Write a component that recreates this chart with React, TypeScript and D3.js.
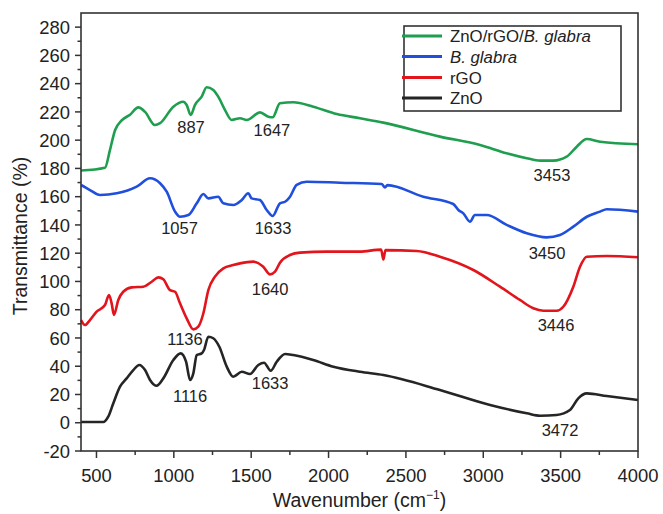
import React from "react";
import * as d3 from "d3";

const seriesNames = ["ZnO/rGO/B. glabra", "B. glabra", "rGO", "ZnO"];
const seriesColors = ["#1e9e4e", "#1f4fdc", "#e2141c", "#252525"];

const greenWn = [400, 555, 587, 620, 663, 717, 770, 814, 878, 911, 997, 1061, 1083, 1109, 1137, 1180, 1212, 1255, 1287, 1331, 1374, 1428, 1471, 1557, 1611, 1639, 1686, 1772, 1901, 2053, 2203, 2354, 2720, 2979, 3151, 3281, 3367, 3453, 3539, 3604, 3669, 3755, 4000];
const greenT = [178.5, 180.5, 193, 207, 214, 218, 223.2, 220, 210.7, 212, 223.7, 227.2, 224.9, 217.8, 225, 230.8, 237.4, 235.5, 230.8, 221.3, 214.3, 215.5, 214.3, 219.7, 216.6, 216.2, 226.1, 226.8, 223.7, 218.5, 215.5, 212.4, 202.5, 196.6, 190.7, 187.2, 185.5, 185.5, 188.3, 195.4, 200.8, 198.9, 197.1];

const blueWn = [400, 458, 523, 631, 760, 846, 911, 954, 1008, 1040, 1094, 1148, 1191, 1223, 1287, 1320, 1384, 1439, 1481, 1503, 1557, 1600, 1639, 1686, 1719, 1751, 1794, 1859, 2074, 2343, 2365, 2380, 2612, 2806, 2839, 2871, 2914, 2946, 3022, 3151, 3281, 3410, 3496, 3582, 3669, 3755, 3798, 4000];
const blueT = [168.3, 164.7, 161.2, 162.4, 167.1, 173, 169.5, 163.5, 149.4, 145.8, 147, 155.3, 161.9, 158.8, 160, 155.3, 154.1, 157.6, 162.4, 158.8, 157.6, 150.6, 146.3, 155.3, 156.4, 160, 168.3, 170.6, 169.9, 169, 166.6, 168.2, 160, 154.8, 150.6, 148.2, 142.3, 147, 147, 140, 134.1, 131.2, 132.9, 138.8, 145.8, 149.4, 151.1, 149.4];

const redWn = [400, 426, 458, 501, 555, 581, 598, 613, 641, 673, 728, 803, 857, 900, 932, 975, 1008, 1040, 1083, 1126, 1158, 1191, 1223, 1266, 1320, 1384, 1428, 1514, 1578, 1622, 1654, 1686, 1751, 1815, 1988, 2200, 2340, 2354, 2368, 2570, 2720, 2936, 3108, 3237, 3323, 3388, 3474, 3517, 3582, 3625, 3669, 3798, 4000];
const redT = [72.7, 69.2, 72.7, 78.6, 83.3, 90.4, 84.5, 76.3, 86.9, 92.7, 95.8, 96.3, 99.8, 102.9, 101.5, 93.9, 92.7, 84.5, 73.9, 66.1, 68, 77.5, 93.9, 103.4, 109.3, 111.6, 112.8, 114, 110.4, 105, 106.9, 113.3, 118.7, 120.4, 121.1, 121.1, 122.5, 115.5, 122.2, 121.5, 117.5, 108.1, 96.3, 86.9, 81, 79.3, 79.3, 82.1, 96.3, 110.4, 117.5, 118, 117.1];

const blackWn = [400, 544, 576, 609, 652, 695, 738, 777, 814, 846, 889, 932, 997, 1044, 1079, 1105, 1126, 1148, 1180, 1195, 1223, 1255, 1294, 1342, 1384, 1439, 1492, 1546, 1583, 1626, 1665, 1719, 1772, 1901, 2031, 2203, 2354, 2720, 3044, 3281, 3367, 3474, 3560, 3614, 3669, 3798, 4000];
const blackT = [0.5, 0.5, 4.3, 13.8, 25.5, 31.4, 37.3, 40.9, 37.3, 30.3, 26.2, 31.4, 44.4, 49.1, 43.2, 30.3, 35, 47.9, 49.1, 51.5, 60.9, 59.8, 53.8, 39.7, 32.6, 36.1, 34.5, 40.9, 42.5, 36.8, 43.2, 48.7, 47.9, 44.4, 39.7, 36.1, 33.8, 23.2, 12.6, 6.7, 5, 5.5, 9, 17.3, 20.8, 18.9, 16.1];

const xTicks = [500, 1000, 1500, 2000, 2500, 3000, 3500, 4000];
const xMinorTicks = [750, 1250, 1750, 2250, 2750, 3250, 3750];
const yTicks = [-20, 0, 20, 40, 60, 80, 100, 120, 140, 160, 180, 200, 220, 240, 260, 280];
const yMinorTicks = [-10, 10, 30, 50, 70, 90, 110, 130, 150, 170, 190, 210, 230, 250, 270];

const annoLabels = ["887", "1647", "1057", "1633", "1136", "1640", "1116", "1633", "3453", "3450", "3446", "3472"];
const annoX = [1111, 1634, 1037, 1641, 1072, 1622, 1105, 1622, 3444, 3412, 3470, 3496];
const annoY = [205.1, 202.9, 133.6, 133.6, 55.0, 90.4, 14.7, 23.9, 171.1, 115.9, 65, -9.2];

export default function App() {
  const W = 663, H = 514;
  const left = 81, right = 638, top = 13, bottom = 451;
  const x = d3.scaleLinear().domain([400, 4000]).range([left, right]);
  const y = d3.scaleLinear().domain([-20, 290]).range([bottom, top]);
  const font = "'Liberation Sans', Arial, Helvetica, sans-serif";
  const axisColor = "#333";

  const seriesData: [number, number][][] = [
    greenWn.map((w, i) => [w, greenT[i]]),
    blueWn.map((w, i) => [w, blueT[i]]),
    redWn.map((w, i) => [w, redT[i]]),
    blackWn.map((w, i) => [w, blackT[i]]),
  ];
  const line = d3.line<[number, number]>().x(d => x(d[0])).y(d => y(d[1])).curve(d3.curveMonotoneX);

  const legX = 404, legY = 26, legW = 217, legH = 85;
  const rowY = [36, 56.5, 77.5, 98];

  return (
    <svg width={W} height={H} style={{ position: "absolute", left: 0, top: 0, background: "#fff" }} fontFamily={font}>
      <rect x={0} y={0} width={W} height={H} fill="#fff" />
      {/* curves */}
      {seriesData.map((d, i) => (
        <path key={i} d={line(d) || ""} fill="none" stroke={seriesColors[i]} strokeWidth={2.6} strokeLinejoin="round" />
      ))}
      {/* frame */}
      <rect x={left} y={top} width={right - left} height={bottom - top} fill="none" stroke={axisColor} strokeWidth={1.6} />
      {/* x ticks */}
      {xTicks.map(t => (
        <g key={"xt" + t}>
          <line x1={x(t)} x2={x(t)} y1={bottom} y2={bottom + 7} stroke={axisColor} strokeWidth={1.5} />
          <text x={x(t)} y={482} textAnchor="middle" fontSize={18.4} fill="#222">{t}</text>
        </g>
      ))}
      {xMinorTicks.map(t => (
        <line key={"xm" + t} x1={x(t)} x2={x(t)} y1={bottom} y2={bottom + 4} stroke={axisColor} strokeWidth={1.5} />
      ))}
      {/* y ticks */}
      {yTicks.map(t => (
        <g key={"yt" + t}>
          <line x1={left - 6} x2={left} y1={y(t)} y2={y(t)} stroke={axisColor} strokeWidth={1.5} />
          <text x={left - 11} y={y(t)} dy="0.36em" textAnchor="end" fontSize={18.4} fill="#222">{t}</text>
        </g>
      ))}
      {yMinorTicks.map(t => (
        <line key={"ym" + t} x1={left - 3.5} x2={left} y1={y(t)} y2={y(t)} stroke={axisColor} strokeWidth={1.5} />
      ))}
      {/* axis titles */}
      <text x={(left + right) / 2} y={507} textAnchor="middle" fontSize={19.5} fill="#222">
        Wavenumber (cm<tspan dy={-8} fontSize={12}>−1</tspan><tspan dy={8}>)</tspan>
      </text>
      <text transform={`translate(27,${(top + bottom) / 2 + 4}) rotate(-90)`} textAnchor="middle" fontSize={19.5} fill="#222">
        Transmittance (%)
      </text>
      {/* annotations */}
      {annoLabels.map((l, i) => (
        <text key={"a" + i} x={x(annoX[i])} y={y(annoY[i])} textAnchor="middle" fontSize={16.5} fill="#222">{l}</text>
      ))}
      {/* legend */}
      <rect x={legX} y={legY} width={legW} height={legH} fill="#fff" stroke={axisColor} strokeWidth={1.6} />
      {seriesNames.map((n, i) => (
        <g key={"lg" + i}>
          <line x1={402} x2={442} y1={rowY[i]} y2={rowY[i]} stroke={seriesColors[i]} strokeWidth={2.8} />
          <text x={450} y={rowY[i]} dy="0.36em" fontSize={16.8} fill="#222">
            {i === 0 ? (<>ZnO/rGO/<tspan fontStyle="italic">B. glabra</tspan></>) : i === 1 ? (<tspan fontStyle="italic">{n}</tspan>) : n}
          </text>
        </g>
      ))}
    </svg>
  );
}
